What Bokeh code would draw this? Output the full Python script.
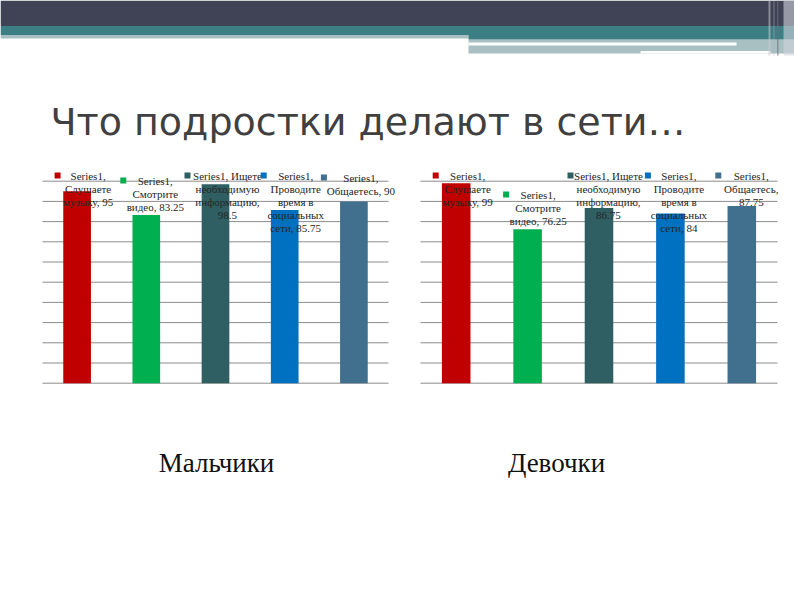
import textwrap
from bokeh.plotting import figure
from bokeh.models import Range1d
from bokeh.layouts import column, row
from bokeh.embed import file_html
from bokeh.resources import INLINE
from bokeh.core.properties import value

# ---------------- data ----------------
title = "Что подростки делают в сети…"
series_name = "Series1"
categories = ["Слушаете музыку", "Смотрите видео", "Ищете необходимую информацию",
              "Проводите время в социальных сети", "Общаетесь"]
groups = ["Мальчики", "Девочки"]
boys = [95, 83.25, 98.5, 85.75, 90]
girls = [99, 76.25, 86.75, 84, 87.75]
colors = ["#C00000", "#00B050", "#2F5F62", "#0070C0", "#41708F"]
y_ticks = list(range(0, 101, 10))

# ---------------- layout (reference pixel geometry) ----------------
PAGE_L, PAGE_R, PAGE_T, PAGE_B = 0, 794, 0, 590
HEAD_B = 160
CHART_B = 400
Y0_PX, Y100_PX = 382.7, 180.7
PPY = (Y0_PX - Y100_PX) / 100.0

LABEL_FONT = value("Liberation Serif")


def make_chart(vals, fig_l, fig_r, plot_l, plot_r, lab_dx, lab_line1, mk_dx):
    n = len(vals)
    ppu = (plot_r - plot_l) / n
    x_range = Range1d(-0.5 - (plot_l - fig_l) / ppu, n - 0.5 + (fig_r - plot_r) / ppu)
    y_range = Range1d(-(CHART_B - Y0_PX) / PPY, (Y0_PX - HEAD_B) / PPY)
    p = figure(width=fig_r - fig_l, height=CHART_B - HEAD_B, x_range=x_range, y_range=y_range,
               output_backend="svg", toolbar_location=None,
               x_axis_location=None, y_axis_location=None, min_border=0)
    p.outline_line_color = None
    p.grid.visible = False
    p.background_fill_color = "white"
    idx = list(range(n))
    # horizontal gridlines across the category span
    p.segment(x0=[-0.5] * len(y_ticks), x1=[n - 0.5] * len(y_ticks), y0=y_ticks, y1=y_ticks,
              line_color="#8C8C8C", line_width=1)
    p.vbar(x=idx, top=vals, bottom=0, width=0.4, fill_color=colors, line_color=None)
    texts = [textwrap.fill(f"{series_name}, {c}, {v:g}", 14) for c, v in zip(categories, vals)]
    line_h = 12.0
    p.text(x=idx, y=[(Y0_PX - (ly - line_h / 2)) / PPY for ly in lab_line1], text=texts,
           x_offset=lab_dx, text_font=LABEL_FONT, text_font_size="11px",
           text_line_height=1.09, text_align="center", text_baseline="top",
           text_color="#262626")
    p.rect(x=[i + d / ppu for i, d in zip(idx, mk_dx)],
           y=[(Y0_PX - ly) / PPY for ly in lab_line1],
           width=6, height=6, width_units="screen", height_units="screen",
           fill_color=colors, line_color=None)
    return p


left = make_chart(boys, PAGE_L, 400, 42, 388,
                  lab_dx=[11, 9, 12, 11, 7], lab_line1=[175, 180, 175, 175, 177],
                  mk_dx=[-19.5, -23, -28, -21, -30])
right = make_chart(girls, 400, PAGE_R, 420, 777,
                   lab_dx=[11.5, 10.5, 9.5, 8.5, 9.5], lab_line1=[175, 194, 175, 175, 175],
                   mk_dx=[-20.5, -21.5, -28.5, -22.5, -23.5])

# ---------------- header (slide decoration + title) ----------------
head = figure(width=PAGE_R - PAGE_L, height=HEAD_B - PAGE_T,
              x_range=Range1d(PAGE_L, PAGE_R), y_range=Range1d(HEAD_B, PAGE_T),
              output_backend="svg", toolbar_location=None,
              x_axis_location=None, y_axis_location=None, min_border=0)
head.outline_line_color = None
head.grid.visible = False
head.quad(left=[0, 0, 0, 468, 468, 640], right=[794, 470, 468, 794, 736, 770],
          top=[0, 25.5, 34.5, 39, 42, 50.5], bottom=[25.5, 34.5, 38, 53, 45, 53],
          fill_color=["#404355", "#3C7E84", "#A8BEC0", "#A9C0C2", "#FFFFFF", "#FFFFFF"],
          line_color=None)
head.quad(left=[468], right=[794], top=[25.5], bottom=[39], fill_color="#3C7E84", line_color=None)
head.quad(left=[768, 773, 776.5, 783], right=[770, 774, 778, 794], top=[0, 0, 0, 0],
          bottom=[55, 55, 55, 55],
          fill_color=["#C8C8D2", "#B4B4C0", "#6E7080", "#D2D3DC"],
          fill_alpha=[0.55, 0.5, 0.6, 0.6], line_color=None)
head.text(x=[50], y=[121], text=[title], text_font=value("DejaVu Sans"), text_font_size="38px",
          text_align="left", text_baseline="alphabetic", text_color="#404040")

# ---------------- footer (group names) ----------------
foot = figure(width=PAGE_R - PAGE_L, height=PAGE_B - CHART_B,
              x_range=Range1d(PAGE_L, PAGE_R), y_range=Range1d(PAGE_B, CHART_B),
              output_backend="svg", toolbar_location=None,
              x_axis_location=None, y_axis_location=None, min_border=0)
foot.outline_line_color = None
foot.grid.visible = False
foot.text(x=[216, 556], y=[462, 462], text=groups, text_font=value("Liberation Serif"),
          text_font_size="27px", text_align="center", text_baseline="alphabetic",
          text_color="#111111")

layout = column(head, row(left, right, spacing=0), foot, spacing=0)
open("out.html", "w").write(file_html(layout, INLINE))
